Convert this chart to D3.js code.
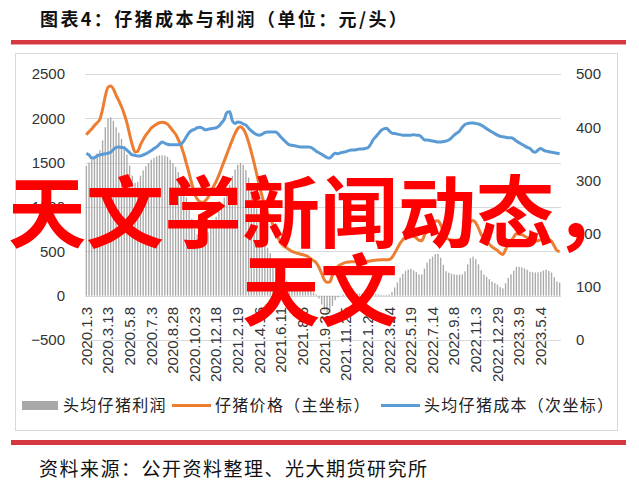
<!DOCTYPE html>
<html><head><meta charset="utf-8">
<script src="https://cdn.jsdelivr.net/npm/d3@7"></script>
<style>body{margin:0;background:#fff}svg{display:block}</style>
</head><body>
<svg id="c" width="639" height="482"></svg>
<script>
const tickLabels = ["2020.1.3","2020.3.13","2020.5.8","2020.7.3","2020.8.28","2020.10.23","2020.12.18","2021.2.19","2021.4.16","2021.6.11","2021.8.6","2021.9.30","2021.11.25","2022.1.20","2022.3.24","2022.5.19","2022.7.14","2022.9.8","2022.11.3","2022.12.29","2023.3.9","2023.5.4"];
const leftTicks = [-500,0,500,1000,1500,2000,2500];
const rightTicks = [0,100,200,300,400,500];

// 仔猪价格（主坐标）
const price = [1816,1850,1880,1920,1950,1990,2100,2250,2350,2365,2330,2260,2200,2130,2050,1950,1820,1700,1620,1630,
1700,1760,1810,1850,1890,1915,1935,1950,1955,1950,1935,1900,1860,1820,1760,1690,1600,1490,1380,1260,
1150,1090,1060,1050,1070,1110,1170,1230,1290,1360,1440,1520,1600,1680,1760,1830,1885,1906,1880,1820,
1730,1620,1500,1370,1240,1120,1010,930,870,800,720,650,590,560,540,520,500,488,478,470,
462,455,440,415,395,370,320,250,180,150,155,230,300,330,350,365,375,380,383,383,
383,383,385,385,388,392,397,400,403,405,406,406,408,430,480,535,590,630,665,680,
690,670,650,625,620,680,750,790,815,840,845,800,720,650,635,628,625,625,630,640,
680,760,830,848,820,760,690,640,610,580,550,530,510,480,465,520,580,620,660,700,
695,688,672,655,630,620,615,620,630,640,648,632,614,560,510,497];

// 头均仔猪成本（次坐标）
const cost = [351,348,342,343,346,348,349,350,351,353,358,362,363,362,361,357,352,348,347,346,
346,348,350,353,356,360,363,368,372,370,368,367,367,367,367,368,374,382,390,394,
396,399,400,398,395,396,397,398,399,402,408,415,428,429,412,407,410,409,406,404,
398,393,389,386,385,387,390,391,391,391,391,387,381,376,371,367,366,365,364,363,
363,363,363,362,359,355,352,349,346,343,342,347,351,350,352,353,354,356,357,357,
358,359,359,360,361,367,376,382,388,394,397,398,393,389,388,387,386,385,385,385,
385,386,385,385,381,376,376,375,374,373,372,372,373,374,376,380,385,389,393,400,
405,407,408,408,407,406,404,401,397,394,391,388,385,383,382,381,380,380,378,374,
371,368,365,362,360,355,353,357,360,357,355,354,353,352,351,350];

// 头均仔猪利润
const profit = [1465,1502,1538,1577,1604,1642,1751,1900,1999,2012,1972,1898,1837,1768,1689,1593,1468,1352,1273,1284,
1354,1412,1460,1497,1534,1555,1572,1582,1583,1580,1567,1533,1493,1453,1393,1322,1226,1108,990,866,
754,691,660,652,675,714,773,832,891,958,1032,1105,1172,1251,1348,1423,1475,1497,1474,1416,
1332,1227,1111,984,855,733,620,539,479,409,329,263,209,184,169,153,134,123,114,107,
99,92,77,53,36,15,-32,-99,-166,-193,-187,-117,-51,-20,-2,12,21,24,26,26,
25,24,26,25,27,25,21,18,15,11,9,8,15,41,92,148,204,245,280,295,
305,284,265,240,239,304,374,415,441,467,473,428,347,276,259,248,240,236,237,240,
275,353,422,440,413,354,286,239,213,186,159,142,125,97,83,139,200,240,282,326,
324,320,307,293,270,265,262,263,270,283,293,278,261,208,159,147];

const svg = d3.select("#c");
const red = "#D5393F";
const cjk = "'Noto Sans CJK SC', sans-serif";
const latin = "'Liberation Sans', Arial, sans-serif";
const fmt = d => d < 0 ? "\u2212" + Math.abs(d) : String(d);

// title
svg.append("text").attr("x",40).attr("y",25.5)
  .style("font-family",cjk).style("font-weight",700).style("font-size","18px")
  .style("letter-spacing","2.4px").attr("fill","#111")
  .text("图表4：仔猪成本与利润（单位：元/头）");
svg.append("rect").attr("x",11).attr("y",40).attr("width",615).attr("height",4.5).attr("fill",red);

// frame
svg.append("rect").attr("x",15.5).attr("y",53.5).attr("width",602).attr("height",377)
  .attr("fill","none").attr("stroke","#d9d9d9").attr("stroke-width",1);

const x = d3.scaleBand().domain(d3.range(price.length)).range([85,561]).paddingInner(0.5).paddingOuter(0.25);
const yL = d3.scaleLinear().domain([-500,2500]).range([340,74]);
const yR = d3.scaleLinear().domain([0,500]).range([340,74]);
const bw = x.bandwidth();
const cx = i => x(i) + bw/2;

// gridlines
svg.append("g").selectAll("line").data(leftTicks).join("line")
  .attr("x1",85).attr("x2",561).attr("y1",d=>Math.round(yL(d))+0.5).attr("y2",d=>Math.round(yL(d))+0.5)
  .attr("stroke","#d9d9d9").attr("stroke-width",1);

// bars
svg.append("g").selectAll("rect").data(profit).join("rect")
  .attr("x",(d,i)=>x(i)).attr("width",bw)
  .attr("y",d=>yL(Math.max(0,d))).attr("height",d=>Math.abs(yL(d)-yL(0)))
  .attr("fill","#a9a9a9");

// lines
const lineL = d3.line().x((d,i)=>cx(i)).y(d=>yL(d)).curve(d3.curveMonotoneX);
const lineR = d3.line().x((d,i)=>cx(i)).y(d=>yR(d)).curve(d3.curveMonotoneX);
svg.append("path").attr("d",lineL(price)).attr("fill","none").attr("stroke","#ED7D31").attr("stroke-width",3).attr("stroke-linejoin","round");
svg.append("path").attr("d",lineR(cost)).attr("fill","none").attr("stroke","#5B9BD5").attr("stroke-width",3).attr("stroke-linejoin","round");

// axes
const ga = svg.append("g").attr("transform","translate(85,0)")
  .call(d3.axisLeft(yL).tickValues(leftTicks).tickFormat(fmt).tickSize(0).tickPadding(20));
const gr = svg.append("g").attr("transform","translate(561,0)")
  .call(d3.axisRight(yR).tickValues(rightTicks).tickFormat(fmt).tickSize(0).tickPadding(15));
const gx = svg.append("g").attr("transform","translate(0,296)")
  .call(d3.axisBottom(x).tickValues(d3.range(0,price.length,8)).tickFormat(i=>tickLabels[i/8]).tickSize(0));
gx.selectAll("text").attr("transform","rotate(-90)").attr("x",-11).attr("y",0).attr("dy","0.35em").style("text-anchor","end");
[ga,gr,gx].forEach(g=>{
  g.select(".domain").remove();
  g.selectAll("text").style("font-family",latin).style("font-size","15px").attr("fill","#333");
});

// legend
const lg = svg.append("g").style("font-family",cjk).style("font-size","16px").style("letter-spacing","1.3px");
lg.append("rect").attr("x",22).attr("y",401).attr("width",36).attr("height",9).attr("fill","#a9a9a9");
lg.append("text").attr("x",63).attr("y",411).attr("fill","#222").text("头均仔猪利润");
lg.append("line").attr("x1",172).attr("x2",211).attr("y1",405.5).attr("y2",405.5).attr("stroke","#ED7D31").attr("stroke-width",3);
lg.append("text").attr("x",215).attr("y",411).attr("fill","#222").text("仔猪价格（主坐标）");
lg.append("line").attr("x1",381).attr("x2",420).attr("y1",405.5).attr("y2",405.5).attr("stroke","#5B9BD5").attr("stroke-width",3);
lg.append("text").attr("x",424).attr("y",411).attr("fill","#222").text("头均仔猪成本（次坐标）");

// bottom
svg.append("rect").attr("x",11).attr("y",440).attr("width",615).attr("height",5).attr("fill",red);
svg.append("text").attr("x",39).attr("y",476)
  .style("font-family",cjk).style("font-size","19px").style("letter-spacing","1.5px").attr("fill","#111")
  .text("资料来源：公开资料整理、光大期货研究所");

// overlay
const ov = svg.append("g").style("font-family",cjk).style("font-weight",700).style("font-size","78px").attr("fill","#FF0000").attr("text-anchor","middle");
ov.append("text").attr("x",320).attr("y",242).text("天文学新闻动态，");
ov.append("text").attr("x",320).attr("y",320).text("天文");
</script>
</body></html>
